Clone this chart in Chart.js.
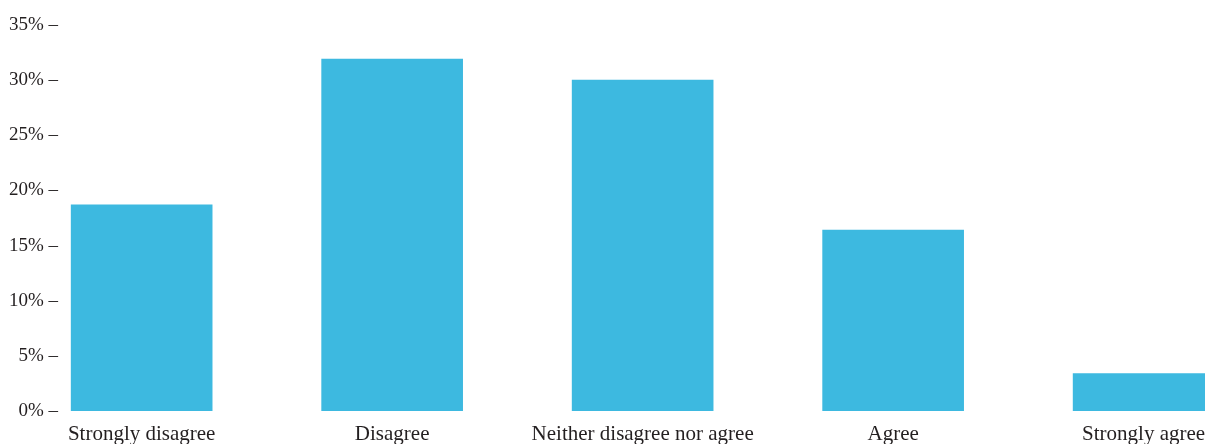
<!DOCTYPE html>
<html lang="en">
<head>
    <meta charset="UTF-8">
    <title>Agreement</title>
    <script src="https://cdn.jsdelivr.net/npm/chart.js"></script>
    <style>
        html, body { margin: 0; padding: 0; background: #fff; overflow: hidden; }
        canvas { display: block; }
    </style>
</head>
<body>
    <canvas id="chart" width="1205" height="444"></canvas>

    <script>
        // data
        const categories = ['Strongly disagree', 'Disagree', 'Neither disagree nor agree', 'Agree', 'Strongly agree'];
        const shares = [18.7, 31.9, 30.0, 16.4, 3.4];
        const yTicks = [0, 5, 10, 15, 20, 25, 30, 35];

        const ink = '#231f20';
        const family = '"Liberation Serif", "DejaVu Serif", serif';

        const ctx = document.getElementById('chart').getContext('2d');
        new Chart(ctx, {
            type: 'bar',
            data: {
                datasets: [{
                    data: shares.map((v, i) => ({ x: i, y: v })),
                    backgroundColor: '#3db9e0',
                    borderWidth: 0,
                    barThickness: 141
                }]
            },
            options: {
                responsive: false,
                animation: false,
                layout: { padding: { top: 25, left: 0, right: 0, bottom: 0 } },
                plugins: { legend: { display: false }, tooltip: { enabled: false } },
                scales: {
                    x: {
                        type: 'linear',
                        offset: false,
                        min: -0.318,
                        max: 4.245,
                        grid: { display: false, drawTicks: false },
                        border: { display: false },
                        afterBuildTicks: s => { s.ticks = categories.map((_, i) => ({ value: i })); },
                        afterFit: s => {
                            s.height = 33;
                            // let the last label run to the edge, as in the original
                            s.paddingLeft = 0;
                            s.paddingRight = 0;
                        },
                        ticks: {
                            color: ink,
                            font: { family: family, size: 21 },
                            padding: 11,
                            maxRotation: 0,
                            autoSkip: false,
                            callback: v => categories[v]
                        }
                    },
                    y: {
                        min: 0,
                        max: 35,
                        grid: { display: false, drawTicks: false },
                        border: { display: false },
                        afterBuildTicks: s => { s.ticks = yTicks.map(v => ({ value: v })); },
                        afterFit: s => { s.width = 62; },
                        ticks: {
                            color: ink,
                            font: { family: family, size: 19 },
                            padding: 4,
                            callback: v => v + '% \u2013'
                        }
                    }
                }
            }
        });
    </script>
</body>
</html>
